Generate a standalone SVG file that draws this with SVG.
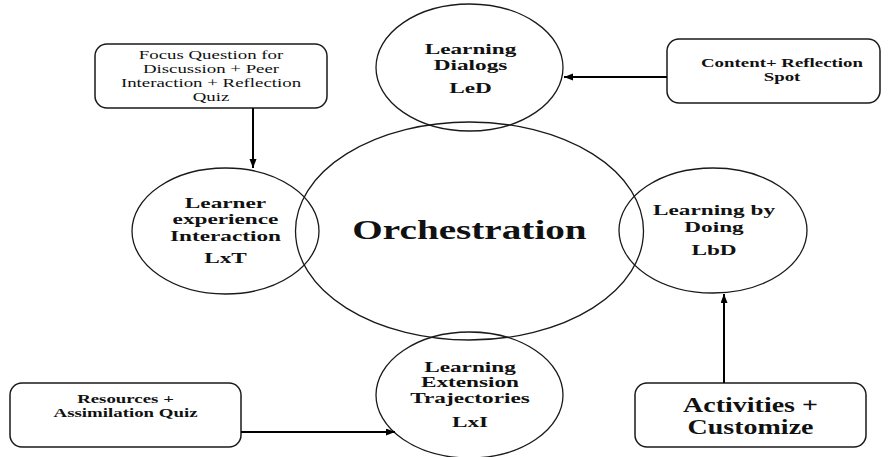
<svg xmlns="http://www.w3.org/2000/svg" width="891" height="457" viewBox="0 0 891 457">
<style>
  .ell { fill: none; stroke: #1a1a1a; stroke-width: 1.3; }
  .box { fill: #ffffff; stroke: #1a1a1a; stroke-width: 1.5; }
  .conn { fill: none; stroke: #000000; stroke-width: 2; }
  text { font-family: "Liberation Serif", "Times New Roman", serif; fill: #111111; text-anchor: middle; }
  .b { font-weight: bold; }
  .c { font-size: 15px; font-weight: bold; }
  .bx { font-size: 13px; }
  .big { font-size: 28px; font-weight: bold; }
  .act { font-size: 20px; font-weight: bold; }
</style>
<defs>
  <marker id="arr" markerUnits="userSpaceOnUse" markerWidth="10" markerHeight="8" refX="9" refY="3.5" orient="auto">
    <path d="M0,0 L9,3.5 L0,7 z" fill="#000000"/>
  </marker>
</defs>
<rect width="891" height="457" fill="#ffffff"/>

<g id="orchestration">
  <ellipse class="ell" cx="469.5" cy="231" rx="174" ry="109"/>
  <g transform="translate(469.5 0) scale(1.4 1)"><text class="big" x="0" y="239">Orchestration</text></g>
</g>

<g id="led">
  <ellipse class="ell" cx="469.5" cy="67.5" rx="93.5" ry="63.5"/>
  <g transform="translate(470.5 0) scale(1.55 1)">
    <text class="c" x="0" y="54">Learning</text>
    <text class="c" x="0" y="70">Dialogs</text>
    <text class="c" x="0" y="93">LeD</text>
  </g>
</g>

<g id="lxt">
  <ellipse class="ell" cx="225.5" cy="231" rx="93.5" ry="63"/>
  <g transform="translate(225.5 0) scale(1.55 1)">
    <text class="c" x="0" y="208">Learner</text>
    <text class="c" x="0" y="224">experience</text>
    <text class="c" x="0" y="241">Interaction</text>
    <text class="c" x="0" y="263">LxT</text>
  </g>
</g>

<g id="lbd">
  <ellipse class="ell" cx="713" cy="230.5" rx="94" ry="62.5"/>
  <g transform="translate(714 0) scale(1.55 1)">
    <text class="c" x="0" y="215">Learning by</text>
    <text class="c" x="0" y="232">Doing</text>
    <text class="c" x="0" y="255">LbD</text>
  </g>
</g>

<g id="lxi">
  <ellipse class="ell" cx="469.5" cy="395" rx="93.5" ry="63"/>
  <g transform="translate(470 0) scale(1.55 1)">
    <text class="c" x="0" y="372">Learning</text>
    <text class="c" x="0" y="387.5">Extension</text>
    <text class="c" x="0" y="403">Trajectories</text>
    <text class="c" x="0" y="427">LxI</text>
  </g>
</g>

<g id="focus">
  <rect class="box" x="95" y="44" width="232" height="64" rx="12"/>
  <g transform="translate(211 0) scale(1.45 1)">
    <text class="bx" x="0" y="59">Focus Question for</text>
    <text class="bx" x="0" y="73">Discussion + Peer</text>
    <text class="bx" x="0" y="87">Interaction + Reflection</text>
    <text class="bx" x="0" y="101">Quiz</text>
  </g>
</g>

<g id="content">
  <rect class="box" x="667" y="39" width="213" height="64" rx="12"/>
  <g transform="translate(782 0) scale(1.45 1)">
    <text class="bx b" x="0" y="67">Content+ Reflection</text>
    <text class="bx b" x="0" y="81">Spot</text>
  </g>
</g>

<g id="resources">
  <rect class="box" x="10" y="383" width="231" height="64" rx="12"/>
  <g transform="translate(125.5 0) scale(1.45 1)">
    <text class="bx b" x="0" y="403">Resources +</text>
    <text class="bx b" x="0" y="417">Assimilation Quiz</text>
  </g>
</g>

<g id="activities">
  <rect class="box" x="635" y="383" width="231" height="64" rx="12"/>
  <g transform="translate(750.5 0) scale(1.4 1)">
    <text class="act" x="0" y="412">Activities +</text>
    <text class="act" x="0" y="434">Customize</text>
  </g>
</g>

<g id="connectors">
  <line class="conn" x1="253" y1="108" x2="253" y2="168" marker-end="url(#arr)"/>
  <line class="conn" x1="667" y1="77" x2="564" y2="77" marker-end="url(#arr)"/>
  <line class="conn" x1="241" y1="432" x2="395" y2="432" marker-end="url(#arr)"/>
  <line class="conn" x1="724" y1="383" x2="724" y2="294" marker-end="url(#arr)"/>
</g>
</svg>
